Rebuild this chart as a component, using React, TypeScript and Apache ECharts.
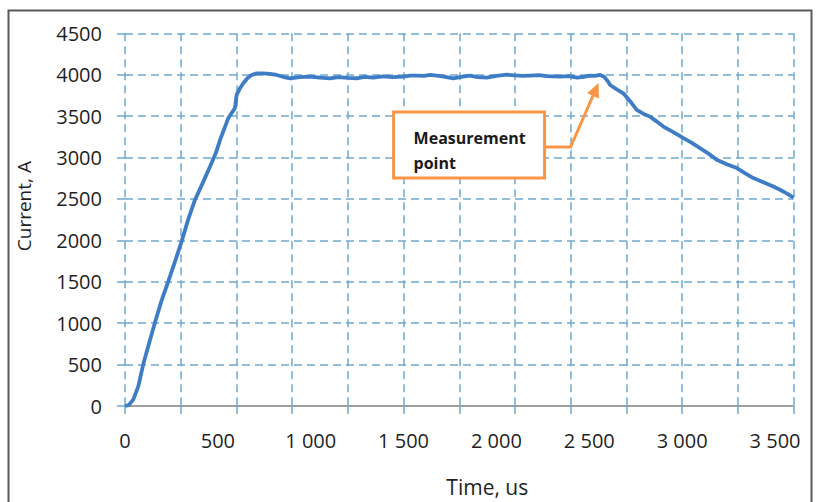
import React, { useEffect, useRef } from "react";
import * as echarts from "echarts";

// Time (us) and current (A)
const timeUs = [
  0, 20, 45, 72, 100, 130, 161, 195, 233, 270, 305, 340, 377, 420, 458, 490, 512, 535, 556, 575,
  592, 601, 620, 637, 660, 682, 710, 745, 780, 817, 850, 889, 940, 996, 1050, 1104, 1150, 1200,
  1248, 1290, 1337, 1390, 1440, 1498, 1535, 1571, 1610, 1643, 1700, 1768, 1810, 1858, 1900, 1948,
  2000, 2057, 2100, 2140, 2181, 2230, 2270, 2305, 2342, 2390, 2434, 2470, 2504, 2530, 2558, 2580,
  2600, 2612, 2650, 2683, 2720, 2755, 2790, 2827, 2860, 2899, 2950, 3007, 3050, 3096, 3140, 3186,
  3240, 3294, 3340, 3383, 3440, 3491, 3527, 3560, 3600,
];
const currentA = [
  0, 10, 80, 240, 520, 760, 1005, 1260, 1506, 1750, 1988, 2250, 2491, 2700, 2892, 3060, 3214, 3350,
  3475, 3540, 3596, 3756, 3840, 3897, 3960, 3997, 4017, 4017, 4010, 3997, 3975, 3957, 3970, 3977,
  3965, 3957, 3972, 3962, 3957, 3975, 3965, 3980, 3970, 3977, 3990, 3990, 3985, 3997, 3982, 3957,
  3975, 3990, 3972, 3965, 3985, 4000, 3992, 3985, 3990, 3995, 3982, 3980, 3977, 3982, 3965, 3975,
  3990, 3985, 3997, 3975, 3920, 3876, 3820, 3776, 3680, 3575, 3530, 3494, 3440, 3374, 3310, 3234,
  3180, 3114, 3050, 2973, 2920, 2873, 2810, 2752, 2700, 2651, 2611, 2570, 2515,
];

const xTickValues = [0, 500, 1000, 1500, 2000, 2500, 3000, 3500];
const xTickLabels = ["0", "500", "1 000", "1 500", "2 000", "2 500", "3 000", "3 500"];
const yTickLabels = ["0", "500", "1000", "1500", "2000", "2500", "3000", "3500", "4000", "4500"];

const measurementPoint = [2550, 3900];
const annotationText = "Measurement\npoint";

const GRID_COLOR = "#6fa8cf";
const ORANGE = "#F79646";
const TEXT_COLOR = "#1f1f1f";
const FONT = "'Open Sans', 'Liberation Sans', sans-serif";

export default function App() {
  const ref = useRef<HTMLDivElement>(null);

  useEffect(() => {
    if (!ref.current) return;
    const chart = echarts.init(ref.current, null, { renderer: "svg" });
    const data = timeUs.map((t, i) => [t, currentA[i]]);
    const gridLine = { color: GRID_COLOR, width: 1.5, type: [8, 5] as any };

    chart.setOption({
      animation: false,
      backgroundColor: "#ffffff",
      grid: { left: 125, top: 33.3, right: 26.4, bottom: 95.3, containLabel: false },
      xAxis: [
        {
          type: "value",
          min: 0,
          max: 3600,
          interval: 300,
          position: "bottom",
          axisLine: { show: true, lineStyle: { color: "#a0a0a0", width: 1.8 } },
          axisTick: { show: true, length: 8, lineStyle: { color: GRID_COLOR, width: 1.5 } },
          axisLabel: { show: false },
          splitLine: { show: true, lineStyle: gridLine },
          name: "Time, us",
          nameLocation: "middle",
          nameGap: 70,
          nameTextStyle: {
            fontFamily: FONT,
            fontSize: 21,
            color: TEXT_COLOR,
            padding: [0, 0, 0, 56],
          },
        },
        {
          type: "value",
          min: 0,
          max: 3600,
          interval: 500,
          position: "bottom",
          axisLine: { show: false },
          axisTick: { show: false },
          splitLine: { show: false },
          axisLabel: {
            show: true,
            margin: 24,
            showMaxLabel: false,
            fontFamily: FONT,
            fontSize: 20,
            color: TEXT_COLOR,
            formatter: (v: number) => {
              const i = xTickValues.indexOf(v);
              return i >= 0 ? xTickLabels[i] : "";
            },
          },
        },
      ],
      yAxis: {
        type: "value",
        min: 0,
        max: 4500,
        interval: 500,
        axisLine: { show: false },
        axisTick: { show: true, length: 8, lineStyle: { color: GRID_COLOR, width: 1.5 } },
        splitLine: { show: true, lineStyle: gridLine },
        axisLabel: {
          margin: 23,
          fontFamily: FONT,
          fontSize: 20,
          color: TEXT_COLOR,
          formatter: (v: number) => yTickLabels[Math.round(v / 500)] ?? "",
        },
        name: "Current, A",
        nameLocation: "middle",
        nameGap: 92,
        nameTextStyle: { fontFamily: FONT, fontSize: 19, color: TEXT_COLOR, padding: [0, 0, 0, 27] },
      },
      series: [
        {
          type: "line",
          xAxisIndex: 0,
          yAxisIndex: 0,
          data,
          showSymbol: false,
          symbol: "none",
          lineStyle: { color: "#3f7cc6", width: 3.8 },
          z: 3,
        },
      ],
    });

    const tip = chart.convertToPixel({ xAxisIndex: 0, yAxisIndex: 0 }, measurementPoint) as number[];
    const tx = tip[0];
    const ty = tip[1];
    const bend = [tx - 28, ty + 64];
    const dx = tx - bend[0];
    const dy = ty - bend[1];
    const len = Math.sqrt(dx * dx + dy * dy);
    const ux = dx / len;
    const uy = dy / len;
    const headLen = 14;
    const headHalf = 6.5;
    const bx = tx - ux * headLen;
    const by = ty - uy * headLen;
    const px = -uy;
    const py = ux;

    chart.setOption({
      graphic: [
        {
          type: "rect",
          shape: { x: 8.5, y: 10.5, width: 803, height: 520 },
          style: { fill: "none", stroke: "#5a5a5a", lineWidth: 2 },
          silent: true,
          z: 0,
        },
        {
          type: "rect",
          shape: { x: tx - 205, y: ty + 29, width: 151, height: 66 },
          style: { fill: "#ffffff", stroke: ORANGE, lineWidth: 3 },
          z: 10,
        },
        {
          type: "text",
          x: tx - 185,
          y: ty + 42.5,
          style: {
            text: annotationText,
            font: `bold 16px ${FONT}`,
            fill: "#1a1a1a",
            lineHeight: 25,
            verticalAlign: "top",
            align: "left",
          },
          z: 11,
        },
        {
          type: "polyline",
          shape: { points: [[tx - 54, ty + 64], bend, [bx + ux * 2, by + uy * 2]] },
          style: { stroke: ORANGE, lineWidth: 3, fill: "none" },
          z: 10,
        },
        {
          type: "polygon",
          shape: {
            points: [
              [tx, ty],
              [bx + px * headHalf, by + py * headHalf],
              [bx - px * headHalf, by - py * headHalf],
            ],
          },
          style: { fill: ORANGE },
          z: 10,
        },
      ],
    });

    return () => chart.dispose();
  }, []);

  return (
    <div
      ref={ref}
      style={{ position: "fixed", left: 0, top: 0, width: 820, height: 502, background: "#fff" }}
    />
  );
}
